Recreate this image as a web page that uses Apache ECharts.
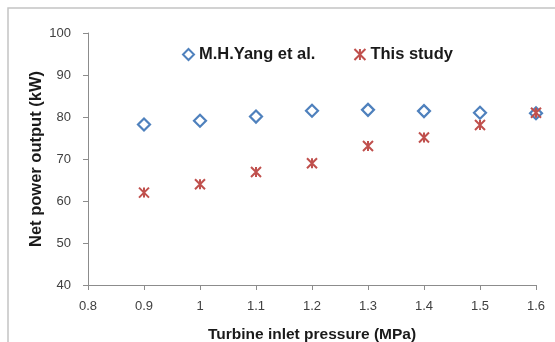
<!DOCTYPE html>
<html>
<head>
<meta charset="utf-8">
<script src="https://cdn.jsdelivr.net/npm/echarts@6/dist/echarts.min.js"></script>
<style>
  html, body { margin: 0; padding: 0; background: #fff; }
  #chart { width: 555px; height: 342px; }
</style>
</head>
<body>
<div id="chart"></div>
<script>
// turbine inlet pressure (MPa)
var pressure = [0.9, 1.0, 1.1, 1.2, 1.3, 1.4, 1.5, 1.6];
// net power output (kW)
var yangValues = [78.2, 79.1, 80.1, 81.5, 81.7, 81.4, 81.0, 80.9];
var studyValues = [62.0, 64.0, 66.9, 69.0, 73.1, 75.1, 78.1, 81.0];
var seriesNames = ["M.H.Yang et al.", "This study"];

var fontFamily = "Liberation Sans, Arial, sans-serif";
var axisColor = "#8c8c8c";

function pairs(xs, ys) {
  var out = [];
  for (var i = 0; i < xs.length; i++) {
    out.push([xs[i], ys[i]]);
  }
  return out;
}

var chart = echarts.init(document.getElementById("chart"));
chart.setOption({
  backgroundColor: "#ffffff",
  animation: false,
  graphic: [
    {
      type: "rect",
      shape: { x: 8, y: 8, width: 600, height: 400 },
      style: { fill: "none", stroke: "#c4c4c4", lineWidth: 1.5 }
    }
  ],
  legend: {
    left: 177,
    top: 41,
    itemWidth: 11,
    itemHeight: 11,
    itemGap: 38,
    data: seriesNames,
    textStyle: {
      fontFamily: fontFamily,
      fontWeight: "bold",
      fontSize: 16.5,
      color: "#1a1a1a"
    }
  },
  grid: {
    left: 88,
    right: 19,
    top: 33,
    bottom: 57,
    containLabel: false,
    outerBoundsMode: "none"
  },
  xAxis: {
    type: "value",
    min: 0.8,
    max: 1.6,
    interval: 0.1,
    name: "Turbine inlet pressure (MPa)",
    nameLocation: "middle",
    nameGap: 42,
    nameMoveOverlap: false,
    nameTextStyle: {
      fontFamily: fontFamily,
      fontWeight: "bold",
      fontSize: 15.5,
      color: "#1a1a1a"
    },
    axisLine: { lineStyle: { color: axisColor } },
    axisTick: { show: true, length: 5, lineStyle: { color: axisColor } },
    splitLine: { show: false },
    axisLabel: {
      margin: 15,
      fontFamily: fontFamily,
      fontSize: 13,
      color: "#404040",
      formatter: function (v) {
        return String(Math.round(v * 10) / 10);
      }
    }
  },
  yAxis: {
    type: "value",
    min: 40,
    max: 100,
    interval: 10,
    name: "Net power output (kW)",
    nameLocation: "middle",
    nameGap: 43,
    nameMoveOverlap: false,
    nameTextStyle: {
      fontFamily: fontFamily,
      fontWeight: "bold",
      fontSize: 16.5,
      color: "#1a1a1a"
    },
    axisLine: { show: true, lineStyle: { color: axisColor } },
    axisTick: { show: true, length: 5, lineStyle: { color: axisColor } },
    splitLine: { show: false },
    axisLabel: {
      margin: 17,
      fontFamily: fontFamily,
      fontSize: 13,
      color: "#404040"
    }
  },
  series: [
    {
      name: seriesNames[0],
      type: "scatter",
      symbol: "diamond",
      symbolSize: 12,
      itemStyle: {
        color: "#ffffff",
        borderColor: "#4f81bd",
        borderWidth: 2.2,
        opacity: 1
      },
      data: pairs(pressure, yangValues)
    },
    {
      name: seriesNames[1],
      type: "scatter",
      symbol: "path://M0,0L10,10M10,0L0,10M5,0L5,10",
      symbolSize: 10,
      z: 3,
      itemStyle: {
        color: "#c0504d",
        borderColor: "#c0504d",
        borderWidth: 2,
        opacity: 1
      },
      data: pairs(pressure, studyValues)
    }
  ]
});
</script>
</body>
</html>
